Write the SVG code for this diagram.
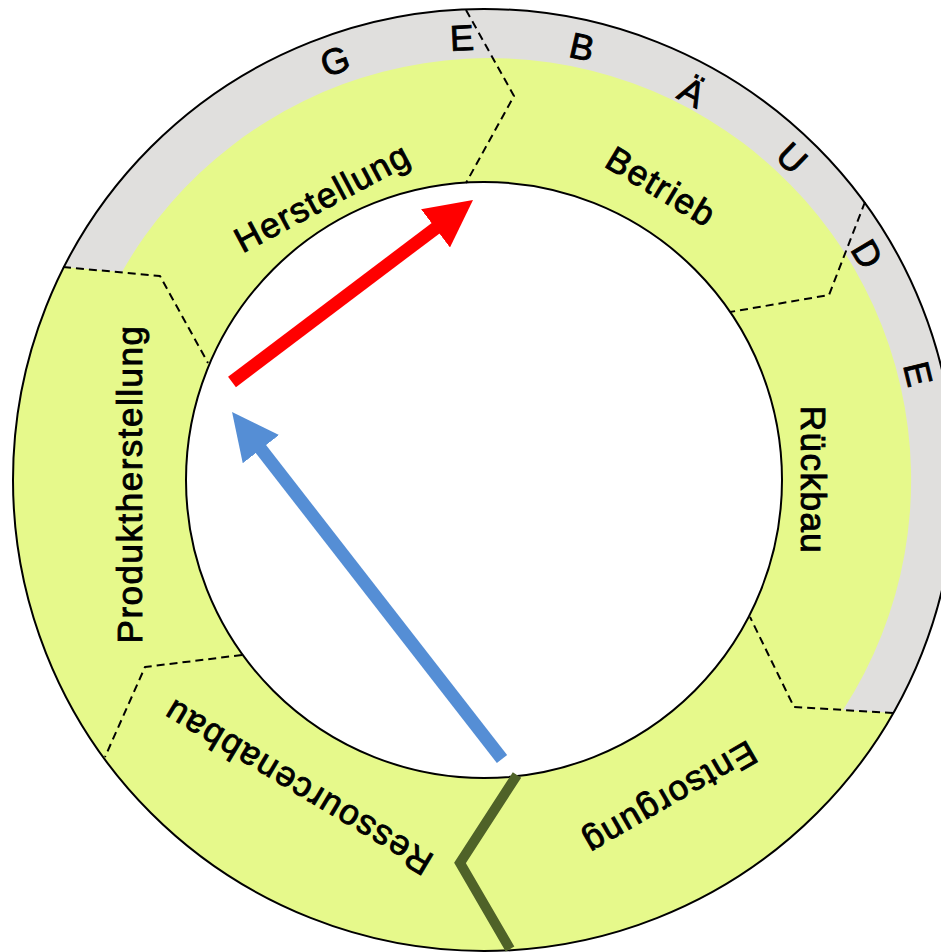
<svg xmlns="http://www.w3.org/2000/svg" width="941" height="952" viewBox="0 0 941 952">
<defs>
<style>
.lbl{font-family:"Liberation Sans",Arial,Helvetica,sans-serif;font-size:35px;letter-spacing:1.5px;fill:#000;stroke:#000;stroke-width:0.9px;text-anchor:middle}
.gb{font-family:"Liberation Sans",Arial,Helvetica,sans-serif;font-size:36px;fill:#000;stroke:#000;stroke-width:0.9px;text-anchor:middle}
.div{fill:none;stroke:#000;stroke-width:2;stroke-dasharray:8 5;stroke-linejoin:round}
.ring{fill:none;stroke:#000;stroke-width:2}
</style>
<marker id="hr" markerUnits="userSpaceOnUse" viewBox="0 -24 47 48" refX="1" refY="0" markerWidth="47" markerHeight="48" orient="auto"><path d="M0,-24 L47,0 L0,24 Z" fill="#ff0000"/></marker>
<marker id="hb" markerUnits="userSpaceOnUse" viewBox="0 -23 47 46" refX="1" refY="0" markerWidth="47" markerHeight="46" orient="auto"><path d="M0,-23 L47,0 L0,23 Z" fill="#558ed5"/></marker>
</defs>
<rect width="941" height="952" fill="#fff"/>
<g id="ring">
<circle cx="484" cy="480" r="471" fill="#e6f98b"/>
<path d="M63.9,267 A471,471 0 1 1 893.3,713 L843,710 A422,422 0 1 0 122,272 Z" fill="#e0dfdd"/>
<circle class="ring" cx="484" cy="480" r="471"/>
<circle cx="484" cy="480" r="298" fill="#fff" stroke="#000" stroke-width="2"/>
<polyline class="div" points="63,267 160,276 208,363"/>
<polyline class="div" points="466,10 514,96 466,183"/>
<polyline class="div" points="865,202 829,295 730,312"/>
<polyline class="div" points="893,713 794,707 750,617"/>
<polyline class="div" points="242,655 145,667 105,757"/>
<polyline points="517,775 460,863 510,949" fill="none" stroke="#4f6228" stroke-width="10"/>
</g>
<g id="gebaeude">
<text class="gb" transform="translate(335,61) rotate(-19.6)" y="12.5">G</text>
<text class="gb" transform="translate(462,38) rotate(-2.8)" y="12.5">E</text>
<text class="gb" transform="translate(582,47) rotate(12.8)" y="12.5">B</text>
<text class="gb" transform="translate(692,92) rotate(28)" y="12.5">Ä</text>
<text class="gb" transform="translate(792,158) rotate(43.7)" y="12.5">U</text>
<text class="gb" transform="translate(867,254) rotate(59.5)" y="12.5">D</text>
<text class="gb" transform="translate(918,374) rotate(76.3)" y="12.5">E</text>
</g>
<g id="herstellung"><text class="lbl" transform="translate(328,208) rotate(-28)">Herstellung</text></g>
<g id="betrieb"><text class="lbl" transform="translate(655,197) rotate(31)">Betrieb</text></g>
<g id="rueckbau"><text class="lbl" transform="translate(801,480) rotate(90)">Rückbau</text></g>
<g id="entsorgung"><text class="lbl" transform="translate(664,788) rotate(150)">Entsorgung</text></g>
<g id="ressourcenabbau"><text class="lbl" transform="translate(304,777) rotate(211)">Ressourcenabbau</text></g>
<g id="produktherstellung"><text class="lbl" transform="translate(142,484) rotate(-90)">Produktherstellung</text></g>
<g id="connectors">
<line x1="232" y1="382" x2="436.3" y2="227.7" stroke="#ff0000" stroke-width="13" marker-end="url(#hr)"/>
<line x1="502" y1="759" x2="260.3" y2="448.3" stroke="#558ed5" stroke-width="13" marker-end="url(#hb)"/>
</g>
</svg>
